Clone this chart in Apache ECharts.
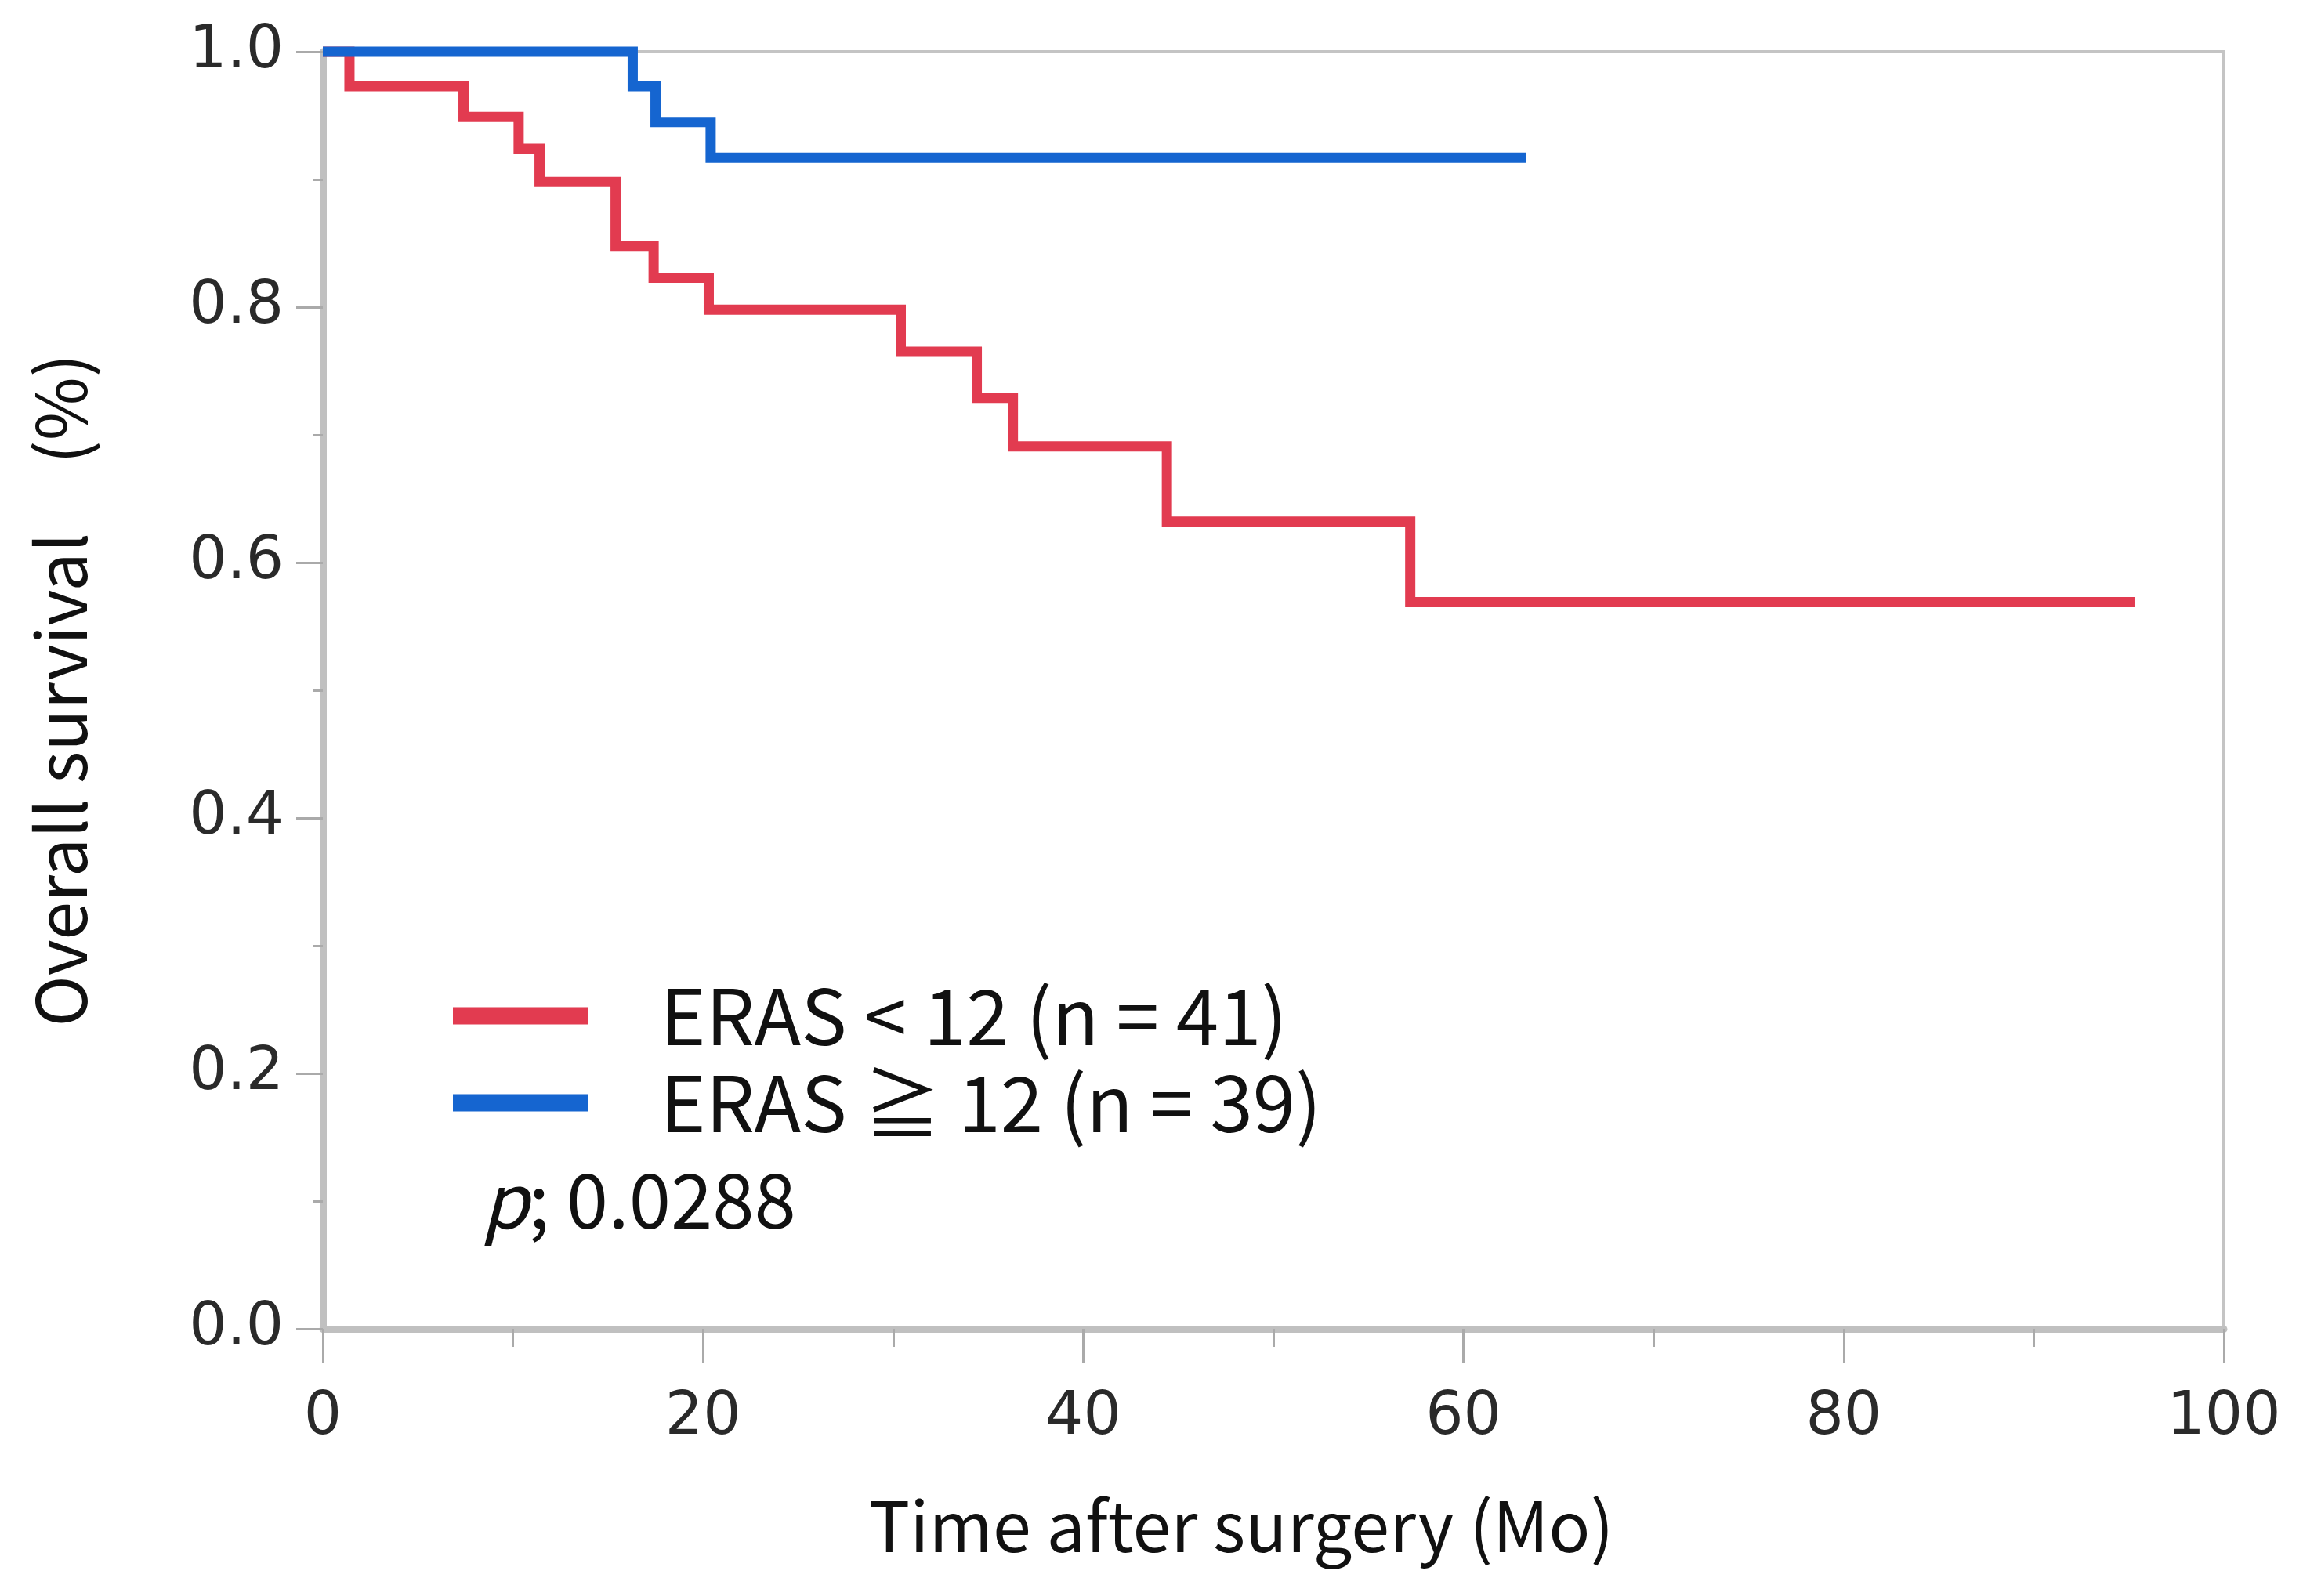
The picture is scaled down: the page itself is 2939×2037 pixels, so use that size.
<!DOCTYPE html>
<html>
<head>
<meta charset="utf-8">
<script src="https://cdn.jsdelivr.net/npm/echarts@6/dist/echarts.min.js"></script>
<style>
html,body{margin:0;padding:0;background:#fff;}
#c{width:2939px;height:2037px;}
</style>
</head>
<body>
<div id="c"></div>
<script>
// Kaplan-Meier curves
const seriesNames = ['ERAS < 12 (n = 41)', 'ERAS ≧ 12 (n = 39)'];
const redTime = [0, 1.4, 7.4, 10.3, 11.4, 15.4, 17.4, 20.3, 30.4, 34.4, 36.3, 44.4, 57.2, 95.3];
const redSurv = [1.0, 0.973, 0.949, 0.924, 0.898, 0.848, 0.823, 0.798, 0.765, 0.729, 0.691, 0.632, 0.569, 0.569];
const blueTime = [0, 16.3, 17.5, 20.4, 63.3];
const blueSurv = [1.0, 0.973, 0.945, 0.917, 0.917];
const xTicks = [0, 20, 40, 60, 80, 100];
const yTicks = [0.0, 0.2, 0.4, 0.6, 0.8, 1.0];
const pText = '0.0288';

const RED = '#E23B50', BLUE = '#1565D0';
const CJK = '"Noto Sans CJK JP", "Noto Sans", sans-serif';
const NUM = '"DejaVu Sans", sans-serif';

const chart = echarts.init(document.getElementById('c'), null, {renderer: 'canvas'});
const zip = (a, b) => a.map((t, i) => [t, b[i]]);

chart.setOption({
  backgroundColor: '#ffffff',
  animation: false,
  grid: {left: 412, right: 101, top: 66, bottom: 341, show: true, borderColor: '#C4C4C4', borderWidth: 4, backgroundColor: 'transparent'},
  xAxis: {
    type: 'value', min: xTicks[0], max: xTicks[xTicks.length - 1], interval: 20,
    name: 'Time after surgery (Mo)', nameLocation: 'middle', nameGap: 208,
    nameTextStyle: {fontFamily: CJK, fontSize: 88, color: '#111', padding: [0, 82, 0, 0]},
    axisLine: {show: true, onZero: false, lineStyle: {color: '#C0C0C0', width: 9}},
    axisTick: {show: true, length: 44, lineStyle: {color: '#AAAAAA', width: 3}},
    minorTick: {show: true, splitNumber: 2, length: 23, lineStyle: {color: '#AAAAAA', width: 3}},
    axisLabel: {margin: 76, fontFamily: NUM, fontSize: 76, color: '#2a2a2a'},
    splitLine: {show: false}
  },
  yAxis: {
    type: 'value', min: yTicks[0], max: yTicks[yTicks.length - 1], interval: 0.2,
    name: 'Overall survival　(%)', nameLocation: 'middle', nameGap: 290, nameRotate: 90,
    nameTextStyle: {fontFamily: CJK, fontSize: 88, color: '#111'},
    axisLine: {show: true, onZero: false, lineStyle: {color: '#C0C0C0', width: 9}},
    axisTick: {show: true, length: 34, lineStyle: {color: '#AAAAAA', width: 3}},
    minorTick: {show: true, splitNumber: 2, length: 13, lineStyle: {color: '#AAAAAA', width: 3}},
    axisLabel: {margin: 50, fontFamily: NUM, fontSize: 76, color: '#2a2a2a', formatter: v => v.toFixed(1)},
    splitLine: {show: false}
  },
  legend: {
    orient: 'vertical', left: 573, top: 1236, itemGap: 0,
    itemWidth: 172, itemHeight: 22, icon: 'rect',
    textStyle: {fontFamily: CJK, fontSize: 98, color: '#111', lineHeight: 111, padding: [0, 0, 0, 88]},
    data: seriesNames
  },
  graphic: [{
    type: 'text', left: 615, top: 1484,
    style: {
      text: '{i|p}; ' + pText,
      rich: {i: {fontFamily: CJK, fontSize: 96, fontStyle: 'italic', fill: '#111'}},
      font: '96px ' + CJK, fill: '#111'
    }
  }],
  series: [
    {name: seriesNames[0], type: 'line', step: 'end', symbol: 'none', clip: false, z: 3,
     lineStyle: {color: RED, width: 13, cap: 'butt', join: 'miter'}, itemStyle: {color: RED},
     data: zip(redTime, redSurv)},
    {name: seriesNames[1], type: 'line', step: 'end', symbol: 'none', clip: false, z: 4,
     lineStyle: {color: BLUE, width: 13, cap: 'butt', join: 'miter'}, itemStyle: {color: BLUE},
     data: zip(blueTime, blueSurv)}
  ]
});
</script>
</body>
</html>
